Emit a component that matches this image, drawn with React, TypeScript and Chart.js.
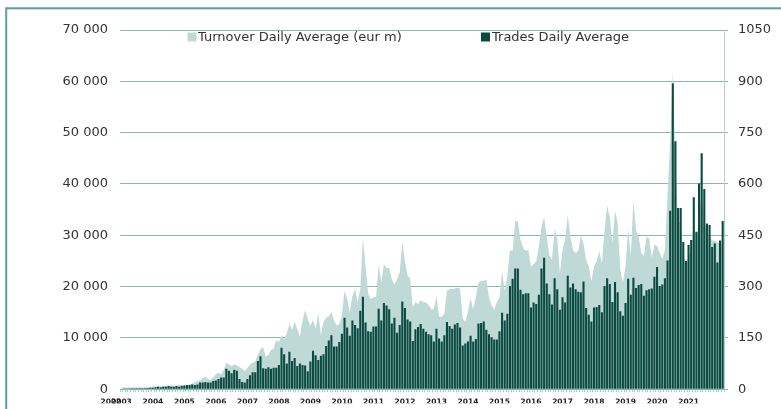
import React, { useEffect, useRef } from "react";
import Chart from "chart.js/auto";

// Monthly categories: Sep 2002 .. Oct 2021
const startYear = 2002;
const startMonth = 8; // 0-based (September)

// Trades Daily Average (left axis)
const trades = [
  100, 150, 150, 150, 200, 200, 200, 200, 200, 200, 250, 300,
  300, 400, 500, 400, 500, 500, 600, 500, 500, 600, 500, 600,
  700, 800, 800, 900, 800, 900, 1300, 1300, 1400, 1300, 1300, 1600,
  1700, 2000, 2300, 2300, 4000, 3600, 3100, 3800, 3600, 2000, 1400, 1300,
  2000, 2700, 3300, 3300, 5500, 6400, 4100, 4000, 4300, 4000, 4200, 4200,
  4700, 8100, 6800, 5000, 7300, 5500, 6100, 4500, 5000, 4700, 4600, 3500,
  5400, 7500, 6600, 5700, 6500, 6800, 8400, 9500, 10500, 8300, 8300, 9200,
  10800, 13900, 12000, 10400, 13400, 12500, 11900, 15300, 18000, 13000, 11300, 11200,
  12200, 12200, 15700, 13400, 16800, 16300, 15600, 12800, 13900, 11000, 12500, 17100,
  15800, 13600, 13200, 9400, 11700, 12100, 12700, 11800, 11200, 10700, 10500, 9300,
  11800, 9900, 9300, 10500, 13100, 12300, 11800, 12600, 12900, 12000, 8500, 8900,
  9300, 10400, 9300, 9800, 12800, 12900, 13200, 11600, 10700, 10100, 9700, 9700,
  11300, 14900, 13400, 14700, 20100, 21500, 23500, 23500, 19400, 18500, 18700, 18700,
  15900, 16900, 16600, 18400, 23500, 25600, 20600, 18500, 16500, 21600, 19500, 15500,
  17900, 16900, 22100, 19800, 20600, 19500, 19000, 18900, 21000, 15800, 14500, 13200,
  15900, 16000, 16400, 15000, 20100, 21600, 20500, 17000, 20900, 18900, 15200, 14300,
  16800, 21500, 18400, 21700, 19700, 20300, 20500, 18200, 19300, 19500, 19600, 21900,
  23800, 20100, 20400, 21600, 25100, 34800, 59600, 48300, 35300, 35300, 28700, 25000,
  28100, 29100, 37400, 30700, 40100, 46000, 39000, 32300, 32000, 27700, 28400, 24700,
  29000, 32800,
];

// Turnover Daily Average (eur m) (right axis)
const turnover = [
  5, 5, 5, 5, 5, 5, 5, 6, 5, 6, 6, 6,
  8, 8, 9, 8, 9, 9, 11, 11, 9, 11, 12, 12,
  11, 11, 14, 17, 20, 24, 27, 32, 38, 30, 26, 35,
  44, 48, 44, 57, 78, 72, 68, 72, 69, 65, 60, 53,
  62, 72, 77, 81, 102, 117, 123, 95, 101, 114, 119, 143,
  138, 158, 147, 162, 192, 173, 197, 177, 153, 201, 231, 206,
  185, 203, 177, 221, 158, 197, 209, 213, 225, 201, 188, 189,
  216, 288, 264, 225, 273, 293, 255, 293, 441, 359, 279, 264,
  269, 269, 365, 311, 365, 354, 354, 321, 306, 321, 341, 432,
  374, 332, 324, 240, 255, 249, 260, 254, 254, 246, 234, 234,
  272, 212, 212, 221, 288, 293, 293, 294, 297, 293, 207, 197,
  227, 266, 234, 269, 312, 317, 317, 320, 269, 245, 233, 254,
  269, 345, 288, 332, 407, 404, 492, 491, 437, 413, 404, 408,
  359, 365, 374, 417, 474, 504, 446, 389, 378, 470, 441, 339,
  408, 437, 509, 446, 408, 398, 404, 450, 426, 378, 359, 315,
  359, 374, 404, 369, 465, 537, 504, 426, 522, 485, 350, 312,
  360, 470, 389, 552, 465, 446, 398, 389, 446, 441, 384, 422,
  419, 398, 380, 408, 570, 725, 930, 660, 495, 480, 405, 360,
  390, 405, 495, 420, 510, 570, 495, 450, 443, 435, 435, 428,
  428, 420,
];

const leftTicks = { min: 0, max: 70000, step: 10000 };
const rightTicks = { min: 0, max: 1050, step: 150 };
const legendLabels = ["Turnover Daily Average (eur m)", "Trades Daily Average"];

const months: { y: number; m: number }[] = trades.map((_, i) => {
  const t = startMonth + i;
  return { y: startYear + Math.floor(t / 12), m: t % 12 };
});
const categories = months.map((d) => `${d.y}-${String(d.m + 1).padStart(2, "0")}`);

const AREA = "#bfdad6";
const BAR = "#0b4a41";
const GRID = "#86b9b1";
const TEXT = "#333333";
const FONT = "'DejaVu Sans', Verdana, sans-serif";

const fmtSpace = (v: number) => String(v).replace(/\B(?=(\d{3})+(?!\d))/g, " ");

export default function App() {
  const ref = useRef<HTMLCanvasElement | null>(null);
  useEffect(() => {
    if (!ref.current) return;
    const framePlugin = {
      id: "frame",
      beforeDraw(chart: any) {
        const c = chart.ctx;
        c.save();
        c.fillStyle = "#ffffff";
        c.fillRect(0, 0, chart.width, chart.height);
        c.strokeStyle = "#5e9f95";
        c.lineWidth = 2;
        c.strokeRect(6.2, 8.3, 1200, 800);
        c.restore();
      },
      afterDraw(chart: any) {
        const c = chart.ctx;
        c.save();
        c.font = `13px ${FONT}`;
        c.textBaseline = "middle";
        c.textAlign = "left";
        c.fillStyle = AREA;
        c.fillRect(187.5, 32.5, 9, 9);
        c.fillStyle = TEXT;
        c.fillText(legendLabels[0], 198, 37.5);
        c.fillStyle = BAR;
        c.fillRect(481, 32.5, 9, 9);
        c.fillStyle = TEXT;
        c.fillText(legendLabels[1], 492, 37.5);
        c.restore();
      },
    };
    const chart = new Chart(ref.current, {
      type: "bar",
      data: {
        labels: categories,
        datasets: [
          {
            type: "bar",
            label: legendLabels[1],
            data: trades,
            backgroundColor: BAR,
            borderWidth: 0,
            barPercentage: 0.8,
            categoryPercentage: 1.0,
            yAxisID: "y",
            order: 1,
          } as any,
          {
            type: "line",
            label: legendLabels[0],
            data: turnover,
            backgroundColor: AREA,
            borderColor: AREA,
            borderWidth: 0,
            pointRadius: 0,
            tension: 0,
            fill: "origin",
            yAxisID: "y1",
            order: 2,
          } as any,
        ],
      },
      options: {
        responsive: false,
        animation: false,
        devicePixelRatio: 1,
        layout: { padding: { top: 30, left: 0, right: 0, bottom: 0 } },
        plugins: { legend: { display: false }, tooltip: { enabled: false } },
        scales: {
          x: {
            type: "category",
            offset: true,
            grid: {
              offset: true,
              drawOnChartArea: false,
              drawTicks: true,
              tickLength: 3,
              color: "#a9cdc7",
            },
            border: { display: true, color: GRID },
            ticks: {
              autoSkip: false,
              maxRotation: 0,
              minRotation: 0,
              align: "end",
              padding: 5,
              color: "#222222",
              font: { family: FONT, weight: "bold", size: 7.5 },
              callback: (_v: any, i: number) => {
                const d = months[i];
                if (!d) return "";
                if (i === 0 || d.m === 0) return String(d.y);
                return "";
              },
            },
            afterFit: (s: any) => {
              s.height = 14;
            },
          },
          y: {
            position: "left",
            min: leftTicks.min,
            max: leftTicks.max,
            grid: { color: GRID, drawTicks: false, lineWidth: 1 },
            border: { display: false },
            ticks: {
              stepSize: leftTicks.step,
              padding: 12,
              color: TEXT,
              font: { family: FONT, size: 13 },
              callback: (v: any) => fmtSpace(Number(v)),
            },
            afterFit: (s: any) => {
              s.width = 120;
            },
          },
          y1: {
            position: "right",
            min: rightTicks.min,
            max: rightTicks.max,
            grid: { drawOnChartArea: false, drawTicks: true, tickLength: 4, color: GRID },
            border: { display: true, color: "#b3d2cd" },
            ticks: {
              stepSize: rightTicks.step,
              padding: 10,
              color: TEXT,
              font: { family: FONT, size: 13 },
              callback: (v: any) => String(v),
            },
            afterFit: (s: any) => {
              s.width = 57;
            },
          },
        },
      } as any,
      plugins: [framePlugin],
    });
    return () => chart.destroy();
  }, []);
  return (
    <div style={{ position: "absolute", left: 0, top: 0, width: 781, height: 409 }}>
      <canvas ref={ref} width={781} height={409} style={{ display: "block" }} />
    </div>
  );
}
